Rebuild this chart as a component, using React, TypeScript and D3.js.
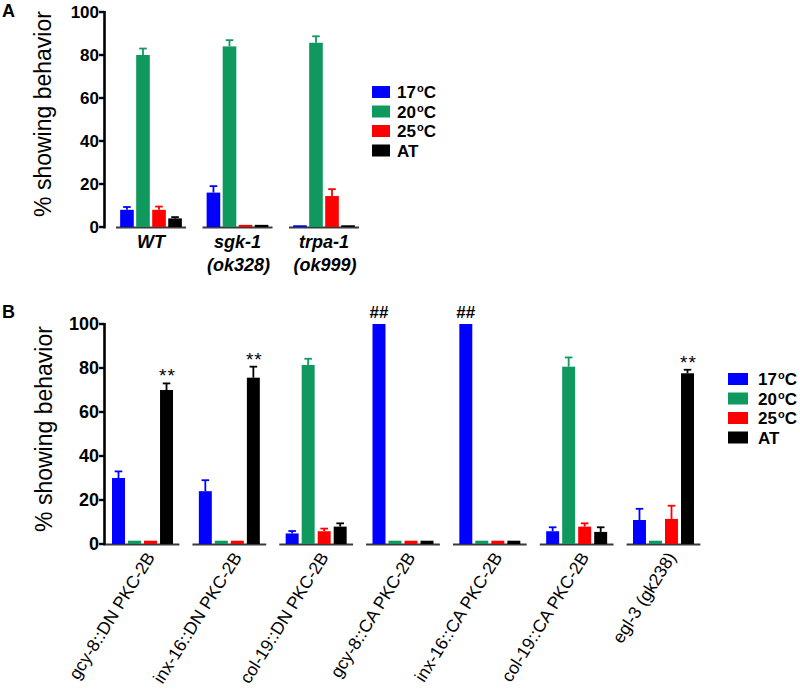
import React from 'react';
import * as d3 from 'd3';

const SERIES = ['17', '20', '25', 'AT'];
const COLORS = ['#0000ff', '#10995f', '#ff0000', '#000000'];

// Panel A
const catsA = ['WT', 'sgk-1', 'trpa-1'];
const catsA2 = ['', '(ok328)', '(ok999)'];
const A17 = [8, 16, 0.8];
const A17e = [1.3, 3, 0];
const A20 = [80, 84, 85.7];
const A20e = [3, 2.9, 3];
const A25 = [8, 1, 14.4];
const A25e = [1.5, 0, 3.2];
const AAT = [4, 1, 0.8];
const AATe = [0.6, 0, 0];

// Panel B
const catsB = [
  'gcy-8::DN PKC-2B',
  'inx-16::DN PKC-2B',
  'col-19::DN PKC-2B',
  'gcy-8::CA PKC-2B',
  'inx-16::CA PKC-2B',
  'col-19::CA PKC-2B',
  'egl-3 (gk238)',
];
const B17 = [30, 24, 4.8, 100, 100, 5.8, 10.9];
const B17e = [3, 5, 1.1, 0, 0, 1.8, 5.1];
const B20 = [1.5, 1.5, 81.4, 1.5, 1.5, 80.6, 1.5];
const B20e = [0, 0, 2.8, 0, 0, 4.2, 0];
const B25 = [1.5, 1.5, 5.8, 1.5, 1.5, 7.9, 11.4];
const B25e = [0, 0, 1.2, 0, 0, 1.5, 6];
const BAT = [70, 75.6, 7.9, 1.5, 1.5, 5.5, 77.6];
const BATe = [3, 5, 1.5, 0, 0, 2.1, 1.6];
const annotB = ['**', '**', '', '##', '##', '', '**'];
const annotBSeries = [3, 3, 3, 0, 0, 0, 3];

const yTicks = [0, 20, 40, 60, 80, 100];
const FONT = 'Arial, "Liberation Sans", Helvetica, sans-serif';

type PanelProps = {
  cats: string[];
  vals: number[][];
  errs: number[][];
  x0: number;
  x1: number;
  yTop: number;
  yBot: number;
  outerPad: number;
  innerPad: number;
  barPadIn: number;
  barPadOut: number;
  tickFont: number;
};

function Legend({ x, y, w, h, gap, tx }: { x: number; y: number; w: number; h: number; gap: number; tx: number }) {
  return (
    <g>
      {SERIES.map((s, i) => (
        <g key={s}>
          <rect x={x} y={y + i * gap} width={w} height={h} fill={COLORS[i]} />
          <text x={tx} y={y + i * gap + h} fontFamily={FONT} fontWeight="bold" fontSize={17} fill="#000">
            {s === 'AT' ? (
              'AT'
            ) : (
              <>
                {s}
                <tspan fontSize={11} dy={-6} dx={1}>o</tspan>
                <tspan dy={6}>C</tspan>
              </>
            )}
          </text>
        </g>
      ))}
    </g>
  );
}

function usePanel(p: PanelProps) {
  const xg = d3.scaleBand<string>().domain(p.cats).range([p.x0, p.x1]).paddingInner(p.innerPad).paddingOuter(p.outerPad);
  const xs = d3.scaleBand<string>().domain(SERIES).range([0, xg.bandwidth()]).paddingInner(p.barPadIn).paddingOuter(p.barPadOut);
  const y = d3.scaleLinear().domain([0, 100]).range([p.yBot, p.yTop]);
  return { xg, xs, y };
}

function Bars({ p }: { p: PanelProps }) {
  const { xg, xs, y } = usePanel(p);
  return (
    <g>
      {p.cats.map((c, ci) => (
        <g key={c}>
          <line x1={xg(c)!} x2={xg(c)! + xg.bandwidth()} y1={y(0) + 0.5} y2={y(0) + 0.5} stroke="#3a3a3a" strokeWidth={2} />
          {SERIES.map((s, si) => {
            const v = p.vals[si][ci];
            const e = p.errs[si][ci];
            const bx = xg(c)! + xs(s)!;
            const cx = bx + xs.bandwidth() / 2;
            return (
              <g key={s}>
                <rect x={bx} y={y(v)} width={xs.bandwidth()} height={y(0) - y(v)} fill={COLORS[si]} />
                {e > 0 && (
                  <g stroke={COLORS[si]} strokeWidth={1.8}>
                    <line x1={cx} x2={cx} y1={y(v)} y2={y(v + e)} />
                    <line x1={cx - 3.8} x2={cx + 3.8} y1={y(v + e)} y2={y(v + e)} />
                  </g>
                )}
              </g>
            );
          })}
        </g>
      ))}
      <line x1={p.x0 + 1.5} x2={p.x0 + 1.5} y1={y(100) - 1} y2={y(0) + 1.5} stroke="#000" strokeWidth={2.6} />
      {yTicks.map((t) => (
        <g key={t}>
          <line x1={p.x0 - 4} x2={p.x0 + 1.5} y1={y(t)} y2={y(t)} stroke="#000" strokeWidth={2.4} />
          <text x={p.x0 - 4} y={y(t)} dy="0.36em" textAnchor="end" fontFamily={FONT} fontWeight="bold" fontSize={p.tickFont}>
            {t}
          </text>
        </g>
      ))}
    </g>
  );
}

export default function App() {
  const pA: PanelProps = {
    cats: catsA,
    vals: [A17, A20, A25, AAT],
    errs: [A17e, A20e, A25e, AATe],
    x0: 103,
    x1: 372,
    yTop: 12,
    yBot: 227,
    outerPad: 0.15,
    innerPad: 0.19,
    barPadIn: 0.15,
    barPadOut: 0.26,
    tickFont: 17,
  };
  const pB: PanelProps = {
    cats: catsB,
    vals: [B17, B20, B25, BAT],
    errs: [B17e, B20e, B25e, BATe],
    x0: 103,
    x1: 703,
    yTop: 324,
    yBot: 544,
    outerPad: 0.03,
    innerPad: 0.15,
    barPadIn: 0.19,
    barPadOut: 0.4,
    tickFont: 18,
  };
  const A = usePanel(pA);
  const B = usePanel(pB);

  return (
    <svg width={800} height={691} viewBox="0 0 800 691" style={{ position: 'absolute', left: 0, top: 0, background: '#fff' }}>
      <rect width={800} height={691} fill="#fff" />
      {/* Panel A */}
      <text x={2} y={17} fontFamily={FONT} fontWeight="bold" fontSize={18}>A</text>
      <text transform="translate(51,114) rotate(-90)" textAnchor="middle" fontFamily={FONT} fontSize={23}>% showing behavior</text>
      <Bars p={pA} />
      {catsA.map((c, i) => (
        <g key={c} fontFamily={FONT} fontWeight="bold" fontStyle="italic" fontSize={18} textAnchor="middle">
          <text x={A.xg(c)! + A.xg.bandwidth() / 2} y={248}>{c}</text>
          {catsA2[i] && <text x={A.xg(c)! + A.xg.bandwidth() / 2 + 1} y={271}>{catsA2[i]}</text>}
        </g>
      ))}
      <Legend x={372} y={86} w={18} h={12} gap={19.5} tx={397} />

      {/* Panel B */}
      <text x={2} y={318} fontFamily={FONT} fontWeight="bold" fontSize={18}>B</text>
      <text transform="translate(52,429) rotate(-90)" textAnchor="middle" fontFamily={FONT} fontSize={23}>% showing behavior</text>
      <Bars p={pB} />
      {catsB.map((c) => {
        const cx = B.xg(c)! + B.xg.bandwidth() / 2;
        return (
          <text key={c} transform={`translate(${cx + 13},${557}) rotate(-58)`} textAnchor="end" fontFamily={FONT} fontSize={17.5}>
            {c}
          </text>
        );
      })}
      {catsB.map((c, i) => {
        if (!annotB[i]) return null;
        const si = annotBSeries[i];
        const s = SERIES[si];
        const cx = B.xg(c)! + B.xs(s)! + B.xs.bandwidth() / 2;
        const top = B.y([B17, B20, B25, BAT][si][i] + [B17e, B20e, B25e, BATe][si][i]);
        const isHash = annotB[i] === '##';
        return (
          <text
            key={'an' + c}
            x={cx + (isHash ? 0 : 1)}
            y={isHash ? top - 6 : top - 1}
            textAnchor="middle"
            fontFamily={FONT}
            fontWeight={isHash ? 'bold' : 'normal'}
            fontSize={isHash ? 17 : 19}
            letterSpacing={isHash ? 0 : 1}
          >
            {annotB[i]}
          </text>
        );
      })}
      <Legend x={728} y={373} w={20} h={12} gap={19.5} tx={758} />
    </svg>
  );
}
